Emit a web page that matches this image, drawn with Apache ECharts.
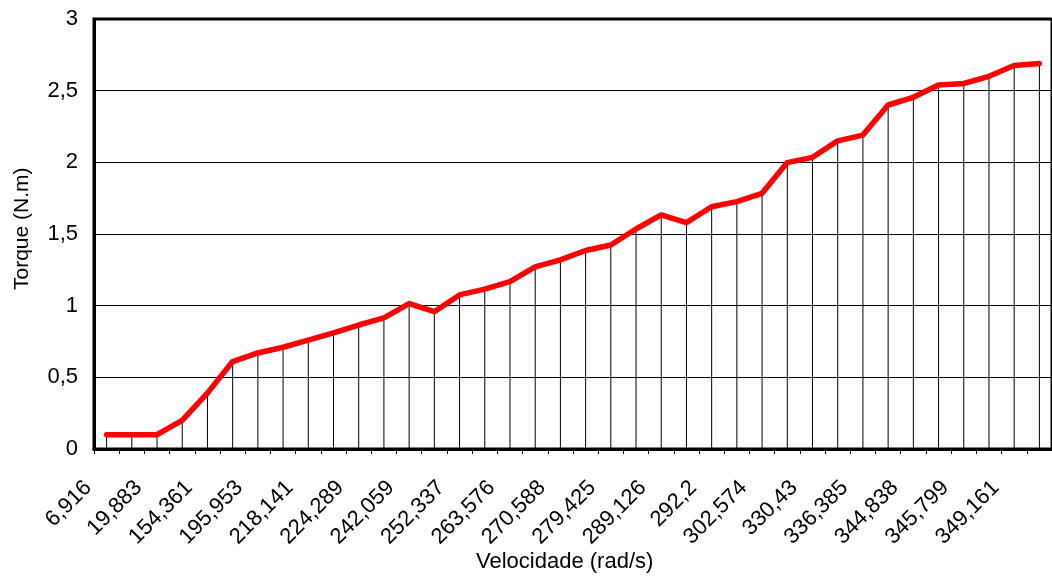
<!DOCTYPE html>
<html>
<head>
<meta charset="utf-8">
<script src="https://cdn.jsdelivr.net/npm/echarts@6/dist/echarts.min.js"></script>
<style>
html,body{margin:0;padding:0;background:#fff;}
#chart{width:1052px;height:579px;}
</style>
</head>
<body>
<div id="chart"></div>
<script>
// Tick labels shown on the category axis (every other category is labelled)
var tickLabels = ['6,916','19,883','154,361','195,953','218,141','224,289','242,059','252,337','263,576','270,588',
  '279,425','289,126','292,2','302,574','330,43','336,385','344,838','345,799','349,161'];
// Torque values (N.m), one per category
var torque = [0.1, 0.1, 0.1, 0.2, 0.39, 0.61, 0.67, 0.71, 0.76, 0.81,
  0.865, 0.915, 1.015, 0.958, 1.075, 1.115, 1.167, 1.27, 1.32, 1.385,
  1.423, 1.535, 1.633, 1.579, 1.69, 1.726, 1.784, 1.998, 2.035, 2.15,
  2.19, 2.4, 2.454, 2.54, 2.55, 2.6, 2.675, 2.69];
var yMin = 0, yMax = 3, yStep = 0.5;
var xTitle = 'Velocidade (rad/s)';
var yTitle = 'Torque (N.m)';

var categories = torque.map(function (v, i) {
  return i % 2 === 0 ? tickLabels[i / 2] : '';
});

var FONT = "'Liberation Sans', Arial, sans-serif";
var chart = echarts.init(document.getElementById('chart'), null, {renderer: 'canvas'});
chart.setOption({
  animation: false,
  backgroundColor: '#fff',
  grid: {
    left: 94, top: 19, width: 963.5, height: 430,
    show: true, borderColor: '#000', borderWidth: 3, backgroundColor: 'transparent'
  },
  xAxis: {
    type: 'category',
    data: categories,
    boundaryGap: true,
    axisLine: {lineStyle: {color: '#000', width: 3}},
    axisTick: {show: true, interval: 0, length: 5, lineStyle: {color: '#000', width: 1}},
    axisLabel: {
      interval: 0, rotate: 45, margin: 17, padding: [0, 26, 0, 0],
      color: '#000', fontSize: 22, fontFamily: FONT
    },
    splitLine: {show: false}
  },
  yAxis: {
    type: 'value',
    min: yMin, max: yMax, interval: yStep,
    axisLine: {show: true, lineStyle: {color: '#000', width: 3}},
    axisTick: {show: false},
    axisLabel: {
      margin: 16, padding: [0, 0, 10, 0],
      color: '#000', fontSize: 22, fontFamily: FONT,
      formatter: function (v) { return String(v).replace('.', ','); }
    },
    splitLine: {show: true, lineStyle: {color: '#000', width: 1}}
  },
  series: [
    {
      type: 'bar',
      data: torque,
      barWidth: 1,
      itemStyle: {color: '#000'},
      z: 2,
      silent: true
    },
    {
      type: 'line',
      data: torque,
      showSymbol: false,
      symbol: 'none',
      lineStyle: {color: '#ff0000', width: 5.5, join: 'round', cap: 'round'},
      z: 3,
      silent: true
    }
  ],
  graphic: [
    {
      type: 'text', left: 476, top: 551,
      style: {text: xTitle, font: '22px ' + FONT, fill: '#000'}
    },
    {
      type: 'text', x: 12, y: 290, rotation: Math.PI / 2,
      style: {text: yTitle, font: '21px ' + FONT, fill: '#000'}
    }
  ]
});
</script>
</body>
</html>
